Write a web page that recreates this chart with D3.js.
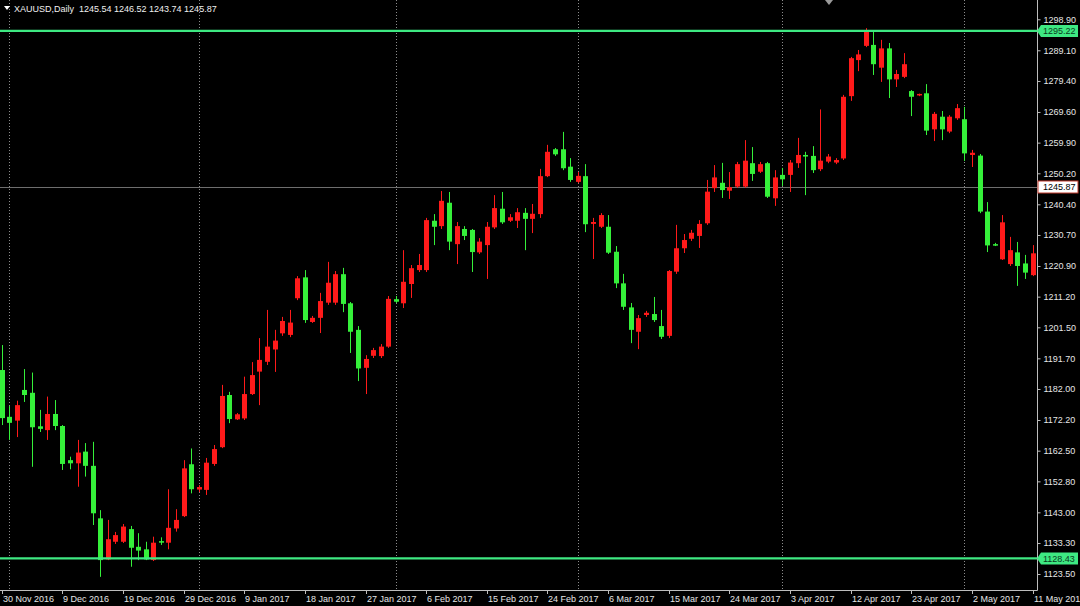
<!DOCTYPE html>
<html><head><meta charset="utf-8">
<script src="https://cdn.jsdelivr.net/npm/d3@7"></script>
<style>
html,body{margin:0;padding:0;background:#000;}
svg{display:block;}
text{font-family:"Liberation Sans","DejaVu Sans",sans-serif;}
</style></head>
<body>
<svg id="chart" width="1080" height="606"></svg>
<script>
// ---- data ----
const symbolTitle = "XAUUSD,Daily";
const titleValues = "1245.54 1246.52 1243.74 1245.87";
const open  = [1188.0,1173.2,1172.0,1181.7,1180.8,1170.2,1169.0,1174.1,1170.3,1159.5,1158.5,1162.2,1157.7,1141.1,1128.1,1133.7,1133.7,1137.7,1132.1,1131.3,1127.9,1133.9,1133.4,1137.9,1141.8,1158.2,1150.2,1150.1,1158.3,1163.6,1180.1,1172.4,1172.7,1180.4,1187.5,1190.6,1194.5,1199.6,1199.1,1210.7,1217.3,1203.2,1204.5,1209.3,1209.3,1218.3,1209.1,1200.7,1188.7,1192.5,1192.4,1195.4,1210.4,1209.1,1215.2,1219.6,1219.6,1235.2,1233.5,1240.9,1227.8,1232.6,1232.3,1225.2,1227.5,1233.1,1239.0,1235.2,1235.2,1237.7,1235.8,1237.3,1249.3,1257.8,1257.8,1252.3,1247.5,1249.3,1234.2,1233.3,1233.3,1225.4,1215.4,1207.8,1200.1,1205.4,1205.7,1201.9,1198.8,1219.1,1226.5,1229.5,1230.4,1234.4,1245.5,1247.2,1244.7,1246.0,1246.0,1253.4,1250.7,1253.4,1242.3,1249.7,1249.7,1253.4,1256.0,1255.7,1251.5,1253.9,1253.6,1254.9,1274.6,1286.0,1290.5,1290.8,1283.6,1289.7,1279.9,1280.7,1276.2,1274.9,1275.5,1264.1,1268.1,1263.4,1267.6,1267.3,1256.0,1255.8,1238.1,1227.8,1223.0,1221.5,1225.2,1221.7,1218.0];
const high  = [1195.9,1176.6,1178.3,1188.3,1187.2,1175.4,1179.6,1178.5,1170.6,1160.6,1165.9,1164.9,1165.3,1143.7,1140.6,1136.8,1139.3,1138.7,1136.4,1133.7,1135.3,1135.1,1150.3,1144.0,1159.5,1163.2,1151.6,1160.2,1164.3,1183.3,1181.1,1174.4,1185.9,1190.5,1198.1,1207.0,1200.7,1204.8,1207.0,1217.7,1219.6,1205.1,1212.4,1222.2,1219.3,1220.3,1209.5,1201.9,1192.7,1195.0,1196.2,1211.4,1211.4,1225.9,1221.2,1224.7,1236.1,1237.3,1244.6,1244.3,1234.8,1233.5,1232.6,1229.7,1234.8,1243.3,1244.3,1237.3,1239.2,1239.2,1240.5,1251.6,1259.2,1258.2,1263.3,1255.0,1250.6,1253.1,1236.1,1237.6,1237.0,1227.2,1218.4,1209.2,1205.4,1206.7,1211.1,1207.0,1219.6,1233.9,1231.0,1232.3,1235.4,1248.1,1252.8,1253.5,1250.6,1253.8,1260.7,1258.5,1253.8,1253.8,1251.2,1251.9,1254.4,1261.4,1257.0,1258.8,1270.4,1256.3,1255.0,1275.0,1287.0,1289.2,1296.1,1295.2,1292.4,1291.4,1282.9,1288.2,1276.5,1275.4,1278.4,1269.6,1269.9,1268.6,1272.1,1271.2,1257.6,1256.3,1241.1,1228.2,1237.0,1230.1,1228.5,1224.4,1227.5];
const low   = [1170.6,1165.9,1166.8,1177.9,1157.4,1168.4,1165.9,1169.0,1156.4,1156.6,1151.1,1154.3,1139.0,1122.6,1127.9,1133.0,1133.3,1125.8,1127.9,1127.9,1127.6,1132.7,1131.3,1136.9,1141.5,1149.0,1149.4,1148.5,1157.7,1163.3,1171.2,1172.2,1172.2,1180.1,1176.9,1189.6,1187.4,1198.8,1198.4,1210.1,1202.9,1202.9,1199.7,1208.6,1208.6,1206.3,1193.4,1184.5,1180.4,1191.8,1191.8,1195.0,1209.2,1207.6,1210.8,1219.0,1219.0,1227.5,1232.6,1225.9,1221.5,1229.1,1219.0,1224.7,1216.8,1232.6,1234.2,1234.8,1232.9,1225.9,1231.3,1236.1,1249.0,1255.7,1251.2,1247.5,1247.1,1231.6,1223.1,1232.9,1224.7,1213.9,1207.0,1196.5,1194.6,1204.8,1203.2,1197.8,1198.1,1218.4,1225.0,1228.8,1226.6,1233.9,1244.3,1242.4,1242.1,1245.6,1245.6,1247.8,1250.3,1242.4,1239.9,1246.2,1244.3,1251.9,1243.3,1250.3,1250.9,1253.4,1253.1,1254.4,1273.1,1282.5,1290.1,1281.3,1279.1,1274.0,1277.5,1280.3,1268.3,1274.6,1262.3,1260.4,1260.7,1262.9,1267.1,1254.1,1252.2,1237.6,1225.3,1227.2,1222.8,1220.9,1214.6,1216.8,1217.7];
const close = [1172.8,1171.3,1176.9,1180.1,1169.9,1169.4,1174.1,1170.3,1158.3,1158.5,1161.9,1157.7,1142.7,1127.9,1134.5,1135.8,1138.5,1131.8,1130.9,1128.1,1133.4,1133.4,1138.1,1140.6,1156.9,1150.3,1151.0,1158.7,1163.0,1179.8,1172.5,1174.0,1180.4,1186.4,1191.2,1195.4,1197.3,1203.5,1203.0,1217.0,1203.8,1204.5,1209.8,1215.6,1218.3,1208.9,1200.1,1188.5,1191.5,1194.3,1195.4,1210.5,1209.6,1215.9,1220.2,1221.2,1235.4,1233.3,1241.5,1228.6,1233.5,1230.4,1225.3,1228.6,1233.3,1239.2,1234.7,1236.3,1237.9,1235.8,1237.4,1249.3,1257.0,1256.2,1251.8,1248.1,1249.4,1234.1,1234.8,1237.0,1225.1,1215.4,1208.0,1200.7,1204.4,1206.1,1203.8,1198.5,1219.3,1226.5,1229.1,1231.4,1234.2,1244.4,1248.9,1244.9,1245.8,1253.1,1254.2,1250.0,1253.1,1242.8,1248.9,1248.3,1253.6,1256.0,1255.5,1251.2,1254.2,1255.5,1254.4,1274.4,1286.6,1287.8,1295.0,1284.7,1289.7,1279.9,1281.6,1284.7,1274.4,1275.3,1263.7,1269.0,1264.1,1268.1,1270.8,1256.5,1256.7,1238.1,1227.4,1227.4,1234.7,1225.9,1220.9,1218.8,1224.9];
// x-axis labels: [bar index, text]
const dateLabels = [[0,"30 Nov 2016"],[8,"9 Dec 2016"],[16,"19 Dec 2016"],[24,"29 Dec 2016"],[32,"9 Jan 2017"],[40,"18 Jan 2017"],[48,"27 Jan 2017"],[56,"6 Feb 2017"],[64,"15 Feb 2017"],[72,"24 Feb 2017"],[80,"6 Mar 2017"],[88,"15 Mar 2017"],[96,"24 Mar 2017"],[104,"3 Apr 2017"],[112,"12 Apr 2017"],[120,"23 Apr 2017"],[128,"2 May 2017"],[136,"11 May 2017"]];
// first bar of each month (vertical separators)
const monthStarts = [1,26,52,76,103,127];
const priceTicks = [1298.90,1289.10,1279.40,1269.60,1259.90,1250.20,1240.40,1230.70,1220.90,1211.20,1201.50,1191.70,1182.00,1172.20,1162.50,1152.80,1143.00,1133.30,1123.50];
const levelLines = [1295.22,1128.43];
const bidPrice = 1245.87;

// ---- layout ----
const W = 1080, H = 606, plotR = 1037, plotB = 590;
const FS = "9px";
const svg = d3.select("#chart");
svg.append("rect").attr("width",W).attr("height",H).attr("fill","#000");

const x = d3.scaleLinear().domain([0,136]).range([1.7,1032.6]);
const y = d3.scaleLinear().domain([1118.76,1305.0]).range([plotB-1,0]);

const bars = open.map((o,i)=>({i,o,h:high[i],l:low[i],c:close[i]}));

svg.append("defs").append("clipPath").attr("id","plotclip")
  .append("rect").attr("x",0).attr("y",0).attr("width",plotR).attr("height",plotB);
const plot = svg.append("g").attr("clip-path","url(#plotclip)");

// month separators (dotted)
plot.selectAll("line.vgrid").data(monthStarts).join("line")
  .attr("class","vgrid")
  .attr("x1",d=>Math.round(x(d))+0.5).attr("x2",d=>Math.round(x(d))+0.5)
  .attr("y1",0).attr("y2",plotB)
  .attr("stroke","#8c8c8c").attr("stroke-width",1).attr("stroke-dasharray","1,2");

// bid line
plot.append("line").attr("x1",0).attr("x2",plotR)
  .attr("y1",Math.round(y(bidPrice))+0.5).attr("y2",Math.round(y(bidPrice))+0.5)
  .attr("stroke","#6e6e6e").attr("stroke-width",1);

const UP = "#ff1a1a", DOWN = "#35f03a";
const bw = 5;
const g = plot.append("g");
g.selectAll("line.wick").data(bars).join("line")
  .attr("class","wick")
  .attr("x1",d=>Math.round(x(d.i))+0.5).attr("x2",d=>Math.round(x(d.i))+0.5)
  .attr("y1",d=>y(d.h)).attr("y2",d=>y(d.l))
  .attr("stroke",d=>d.c>=d.o?UP:DOWN).attr("stroke-width",1);
g.selectAll("rect.body").data(bars).join("rect")
  .attr("class","body")
  .attr("x",d=>Math.round(x(d.i))-2).attr("width",bw)
  .attr("y",d=>y(Math.max(d.o,d.c)))
  .attr("height",d=>Math.max(1.5,Math.abs(y(d.o)-y(d.c))))
  .attr("fill",d=>d.c>=d.o?UP:DOWN);

// horizontal level lines
plot.selectAll("line.level").data(levelLines).join("line")
  .attr("class","level")
  .attr("x1",0).attr("x2",plotR)
  .attr("y1",d=>y(d)).attr("y2",d=>y(d))
  .attr("stroke","#3ee882").attr("stroke-width",2.2);

// frame
svg.append("line").attr("x1",plotR+0.5).attr("x2",plotR+0.5).attr("y1",0).attr("y2",plotB+0.5)
  .attr("stroke","#bdbdbd").attr("stroke-width",1);
svg.append("line").attr("x1",0).attr("x2",plotR+0.5).attr("y1",plotB+0.5).attr("y2",plotB+0.5)
  .attr("stroke","#bdbdbd").attr("stroke-width",1);

// right price axis
const yAxis = d3.axisRight(y).tickValues(priceTicks).tickFormat(d3.format(".2f")).tickSize(3).tickPadding(3);
const ya = svg.append("g").attr("transform",`translate(${plotR+0.5},0)`).call(yAxis);
ya.select(".domain").remove();
ya.selectAll(".tick line").attr("stroke","#bdbdbd");
ya.selectAll(".tick text").attr("fill","#e6e6e6").attr("font-size",FS)
  .attr("font-family","Liberation Sans, DejaVu Sans, sans-serif");

// bottom time axis
const xa = svg.append("g");
xa.selectAll("line.xt").data(dateLabels).join("line")
  .attr("x1",d=>Math.round(x(d[0]))+0.5).attr("x2",d=>Math.round(x(d[0]))+0.5)
  .attr("y1",plotB).attr("y2",plotB+4).attr("stroke","#bdbdbd");
xa.selectAll("text.xl").data(dateLabels).join("text")
  .attr("x",d=>Math.round(x(d[0]))+1).attr("y",plotB+12)
  .attr("fill","#e6e6e6").attr("font-size",FS).text(d=>d[1]);

// price labels for level lines
levelLines.forEach(v=>{
  const yy = y(v);
  svg.append("path").attr("d",`M${plotR},${yy} L${plotR+4},${yy-6} L${W-2},${yy-6} L${W-2},${yy+6} L${plotR+4},${yy+6} Z`)
    .attr("fill","#3ee882");
  svg.append("text").attr("x",plotR+6).attr("y",yy+3.3).attr("font-size",FS)
    .attr("fill","#0b3a1e").text(d3.format(".2f")(v));
});
// bid label
{
  const yy = y(bidPrice);
  svg.append("rect").attr("x",plotR+1).attr("y",yy-6).attr("width",W-plotR-3).attr("height",12)
    .attr("fill","#ffffff").attr("stroke","#c0392b").attr("stroke-width",1);
  svg.append("text").attr("x",plotR+6).attr("y",yy+3.3).attr("font-size",FS)
    .attr("fill","#000").text(d3.format(".2f")(bidPrice));
}

// title
svg.append("path").attr("d","M4,6 L10,6 L7,10 Z").attr("fill","#fff");
svg.append("text").attr("x",14).attr("y",12).attr("font-size",FS).attr("fill","#f0f0f0")
  .style("white-space","pre")
  .text(symbolTitle + "  " + titleValues);
// chart shift marker
svg.append("path").attr("d","M825,0 L833,0 L829,5 Z").attr("fill","#9a9a9a");
</script>
</body></html>
